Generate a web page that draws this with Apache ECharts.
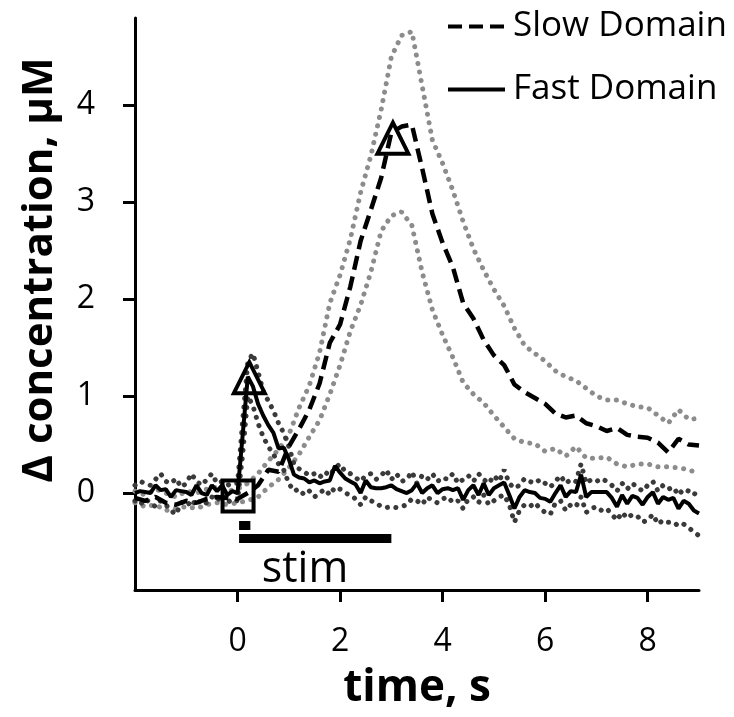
<!DOCTYPE html>
<html>
<head>
<meta charset="utf-8">
<script src="https://cdn.jsdelivr.net/npm/echarts@6/dist/echarts.min.js"></script>
<style>
  html, body { margin: 0; padding: 0; background: #fff; }
  #chart { width: 734px; height: 717px; }
</style>
</head>
<body>
<div id="chart"></div>
<script>
// fast domain sampled every 0.1 s, slow domain every 0.2 s, from -2 s to 9 s
var fastTime = [];
for (var i = 0; i < 111; i++) fastTime.push(+(-2 + i * 0.1).toFixed(1));
var slowTime = [];
for (var j = 0; j < 56; j++) slowTime.push(+(-2 + j * 0.2).toFixed(1));

var fastMean = [
  0.00, 0.02, 0.01, 0.00, 0.08, 0.03, 0.04, -0.04, 0.03, 0.02,
  0.01, -0.02, 0.08, 0.00, -0.02, 0.08, 0.02, 0.08, -0.02, 0.02,
  0.00, 0.60, 1.20, 1.10, 0.92, 0.80, 0.70, 0.62, 0.46, 0.47,
  0.35, 0.19, 0.16, 0.15, 0.11, 0.13, 0.10, 0.12, 0.13, 0.28,
  0.21, 0.15, 0.12, 0.09, 0.00, 0.13, 0.06, 0.05, 0.05, 0.06,
  0.08, 0.04, 0.02, 0.00, 0.03, 0.10, 0.00, 0.05, 0.08, 0.00,
  0.04, 0.05, 0.03, 0.05, -0.07, 0.03, 0.08, -0.02, 0.10, -0.02,
  0.05, 0.08, 0.11, -0.02, -0.16, -0.04, 0.03, 0.01, 0.00, -0.05,
  -0.06, -0.09, 0.00, 0.08, -0.04, 0.02, 0.01, 0.19, -0.04, 0.01,
  0.01, 0.01, 0.01, -0.05, -0.14, -0.02, -0.11, -0.03, -0.05, -0.12,
  -0.04, 0.01, -0.11, -0.04, -0.07, -0.05, -0.16, -0.08, -0.11, -0.18,
  -0.21
];
var fastUpper = [
  0.08, 0.12, 0.10, 0.08, 0.14, 0.20, 0.12, 0.10, 0.15, 0.06,
  0.10, 0.20, 0.12, 0.08, 0.14, 0.20, 0.10, 0.12, 0.08, 0.10,
  0.10, 0.75, 1.35, 1.44, 1.25, 1.05, 0.95, 0.85, 0.72, 0.62,
  0.48, 0.30, 0.25, 0.22, 0.18, 0.20, 0.16, 0.22, 0.18, 0.26,
  0.30, 0.22, 0.20, 0.16, 0.12, 0.18, 0.20, 0.14, 0.18, 0.24,
  0.14, 0.20, 0.12, 0.14, 0.22, 0.10, 0.18, 0.14, 0.20, 0.12,
  0.16, 0.14, 0.20, 0.10, 0.14, 0.18, 0.12, 0.20, 0.14, 0.10,
  0.18, 0.12, 0.24, 0.10, 0.05, 0.08, 0.15, 0.12, 0.10, 0.14,
  0.10, 0.06, 0.12, 0.18, 0.10, 0.14, 0.12, 0.30, 0.10, 0.14,
  0.12, 0.15, 0.12, 0.08, 0.02, 0.10, 0.04, 0.10, 0.06, 0.02,
  0.08, 0.12, 0.02, 0.08, 0.04, 0.06, -0.02, 0.04, 0.02, -0.02,
  0.05
];
var fastLower = [
  -0.08, -0.12, -0.06, -0.10, -0.14, -0.08, -0.12, -0.18, -0.22, -0.10,
  -0.08, -0.14, -0.06, -0.12, -0.10, -0.04, -0.08, -0.02, -0.10, -0.06,
  -0.08, 0.40, 1.00, 0.90, 0.72, 0.58, 0.48, 0.40, 0.30, 0.24,
  0.10, 0.02, 0.04, -0.02, 0.02, -0.04, 0.00, 0.04, -0.02, 0.06,
  0.04, 0.00, -0.02, -0.06, -0.12, -0.04, -0.08, -0.10, -0.14, -0.15,
  -0.14, -0.15, -0.14, -0.12, -0.06, -0.08, -0.12, -0.04, -0.08, -0.10,
  -0.06, -0.04, -0.10, -0.08, -0.16, -0.06, -0.04, -0.10, -0.02, -0.12,
  -0.08, -0.04, -0.02, -0.12, -0.30, -0.18, -0.12, -0.14, -0.10, -0.16,
  -0.20, -0.22, -0.10, -0.08, -0.18, -0.12, -0.14, -0.04, -0.20, -0.16,
  -0.14, -0.18, -0.16, -0.22, -0.28, -0.20, -0.26, -0.22, -0.24, -0.30,
  -0.28, -0.22, -0.32, -0.28, -0.30, -0.30, -0.34, -0.32, -0.36, -0.40,
  -0.44
];

var slowMean = [
  -0.05, -0.08, -0.04, -0.10, -0.12, -0.08, -0.10, -0.06, -0.04, -0.05,
  -0.06, 0.00, 0.08, 0.24, 0.22, 0.48, 0.66, 0.86, 1.13, 1.55,
  1.74, 2.13, 2.60, 2.92, 3.25, 3.72, 3.78, 3.80, 3.35, 2.88,
  2.58, 2.33, 1.96, 1.80, 1.58, 1.42, 1.32, 1.12, 1.04, 0.98,
  0.92, 0.82, 0.78, 0.80, 0.72, 0.69, 0.64, 0.67, 0.60, 0.58,
  0.57, 0.52, 0.42, 0.56, 0.50, 0.49
];
var slowUpper = [
  0.02, -0.02, 0.04, 0.00, -0.04, 0.02, 0.00, 0.04, 0.06, 0.02,
  0.04, 0.10, 0.20, 0.33, 0.45, 0.60, 0.88, 1.11, 1.45, 1.96,
  2.25, 2.62, 3.10, 3.48, 3.95, 4.50, 4.72, 4.76, 4.20, 3.64,
  3.40, 3.12, 2.80, 2.52, 2.30, 2.10, 1.93, 1.70, 1.52, 1.44,
  1.36, 1.26, 1.20, 1.16, 1.08, 1.00, 0.96, 0.96, 0.92, 0.89,
  0.88, 0.80, 0.72, 0.86, 0.76, 0.77
];
var slowLower = [
  -0.10, -0.14, -0.12, -0.18, -0.16, -0.14, -0.16, -0.12, -0.10, -0.12,
  -0.10, -0.08, -0.04, 0.06, 0.14, 0.26, 0.40, 0.58, 0.75, 1.02,
  1.32, 1.67, 1.94, 2.28, 2.70, 2.86, 2.90, 2.76, 2.28, 1.89,
  1.63, 1.40, 1.14, 1.02, 0.93, 0.80, 0.68, 0.56, 0.52, 0.51,
  0.43, 0.46, 0.38, 0.48, 0.36, 0.36, 0.37, 0.30, 0.27, 0.30,
  0.30, 0.27, 0.27, 0.26, 0.24, 0.20
];

// open markers: baseline square, fast peak and slow peak triangles
var markerTime = [0.01, 0.23, 3.03];
var markerValue = [-0.03, 1.19, 3.66];
var markerShape = ['rect', 'triangle', 'triangle'];

// stimulus bars
var pulseSpan = [0.03, 0.25], pulseLevel = -0.335;
var trainSpan = [0.03, 3.0], trainLevel = -0.47;

var xTicks = [0, 2, 4, 6, 8];
var yTicks = [0, 1, 2, 3, 4];

var FONT = '"Open Sans", sans-serif';
var DASH = [14, 7];

function pairs(t, v) {
  return v.map(function (y, k) { return [t[k], y]; });
}

function dotted(name, t, v, color) {
  return {
    name: name, type: 'line', data: pairs(t, v),
    symbol: 'none', silent: true, z: 1,
    lineStyle: { color: color, width: 5, type: [0.1, 8.5], cap: 'round' }
  };
}

var chart = echarts.init(document.getElementById('chart'), null, { renderer: 'canvas' });

chart.setOption({
  animation: false,
  backgroundColor: '#fff',
  grid: { left: 135, right: 35, top: 18, bottom: 127, containLabel: false, outerBoundsMode: 'none' },
  legend: {
    orient: 'vertical', left: 441, top: 4,
    itemWidth: 57, itemHeight: 20, itemGap: 28,
    itemStyle: { opacity: 0 },
    data: [
      { name: 'Slow Domain', lineStyle: { width: 4, type: [14, 7] } },
      { name: 'Fast Domain', lineStyle: { width: 4 } }
    ],
    textStyle: { fontSize: 35, fontFamily: FONT, color: '#000', padding: [0, 0, 0, 3] }
  },
  xAxis: {
    type: 'value', min: -2, max: 9,
    axisLine: { onZero: false, lineStyle: { color: '#000', width: 3 } },
    axisTick: { show: true, length: 12, customValues: xTicks, lineStyle: { color: '#000', width: 3 } },
    axisLabel: { customValues: xTicks, fontSize: 32, fontFamily: FONT, color: '#000', margin: 36 },
    splitLine: { show: false },
    name: 'time, s', nameLocation: 'middle', nameGap: 76,
    nameTextStyle: { fontSize: 44, fontWeight: 'bold', fontFamily: FONT, color: '#000' }
  },
  yAxis: {
    type: 'value', min: -1, max: 4.9,
    axisLine: { show: true, onZero: false, lineStyle: { color: '#000', width: 3 } },
    axisTick: { show: true, length: 12, customValues: yTicks, lineStyle: { color: '#000', width: 3 } },
    axisLabel: { customValues: yTicks, fontSize: 32, fontFamily: FONT, color: '#000', margin: 40 },
    splitLine: { show: false }
  },
  graphic: [
    {
      type: 'text', x: 40, y: 270, rotation: Math.PI / 2,
      style: { text: 'Δ concentration, μM', font: 'bold 42px ' + FONT, fill: '#000',
               textAlign: 'center', textVerticalAlign: 'middle' }
    },
    {
      type: 'text', x: 305, y: 570,
      style: { text: 'stim', font: '43px ' + FONT, fill: '#000',
               textAlign: 'center', textVerticalAlign: 'middle' }
    }
  ],
  series: [
    dotted('slowUpper', slowTime, slowUpper, '#8c8c8c'),
    dotted('slowLower', slowTime, slowLower, '#8c8c8c'),
    dotted('fastUpper', fastTime, fastUpper, '#3a3a3a'),
    dotted('fastLower', fastTime, fastLower, '#3a3a3a'),
    {
      name: 'Slow Domain', type: 'line', data: pairs(slowTime, slowMean),
      symbol: 'none', z: 3, itemStyle: { color: '#000' },
      lineStyle: { color: '#000', width: 4.5, type: DASH }
    },
    {
      name: 'Fast Domain', type: 'line', data: pairs(fastTime, fastMean),
      symbol: 'none', z: 4, itemStyle: { color: '#000' },
      lineStyle: { color: '#000', width: 4 }
    },
    {
      name: 'markers', type: 'scatter', z: 5, silent: true,
      data: markerTime.map(function (t, k) {
        return { value: [t, markerValue[k]], symbol: markerShape[k] };
      }),
      symbolSize: 31,
      itemStyle: { color: 'rgba(255,255,255,0)', borderColor: '#000', borderWidth: 4, opacity: 1 }
    },
    {
      name: 'pulse', type: 'line', symbol: 'none', silent: true, z: 5,
      data: [[pulseSpan[0], pulseLevel], [pulseSpan[1], pulseLevel]],
      lineStyle: { color: '#000', width: 9, cap: 'butt' }
    },
    {
      name: 'train', type: 'line', symbol: 'none', silent: true, z: 5,
      data: [[trainSpan[0], trainLevel], [trainSpan[1], trainLevel]],
      lineStyle: { color: '#000', width: 9, cap: 'butt' }
    }
  ]
});
</script>
</body>
</html>
